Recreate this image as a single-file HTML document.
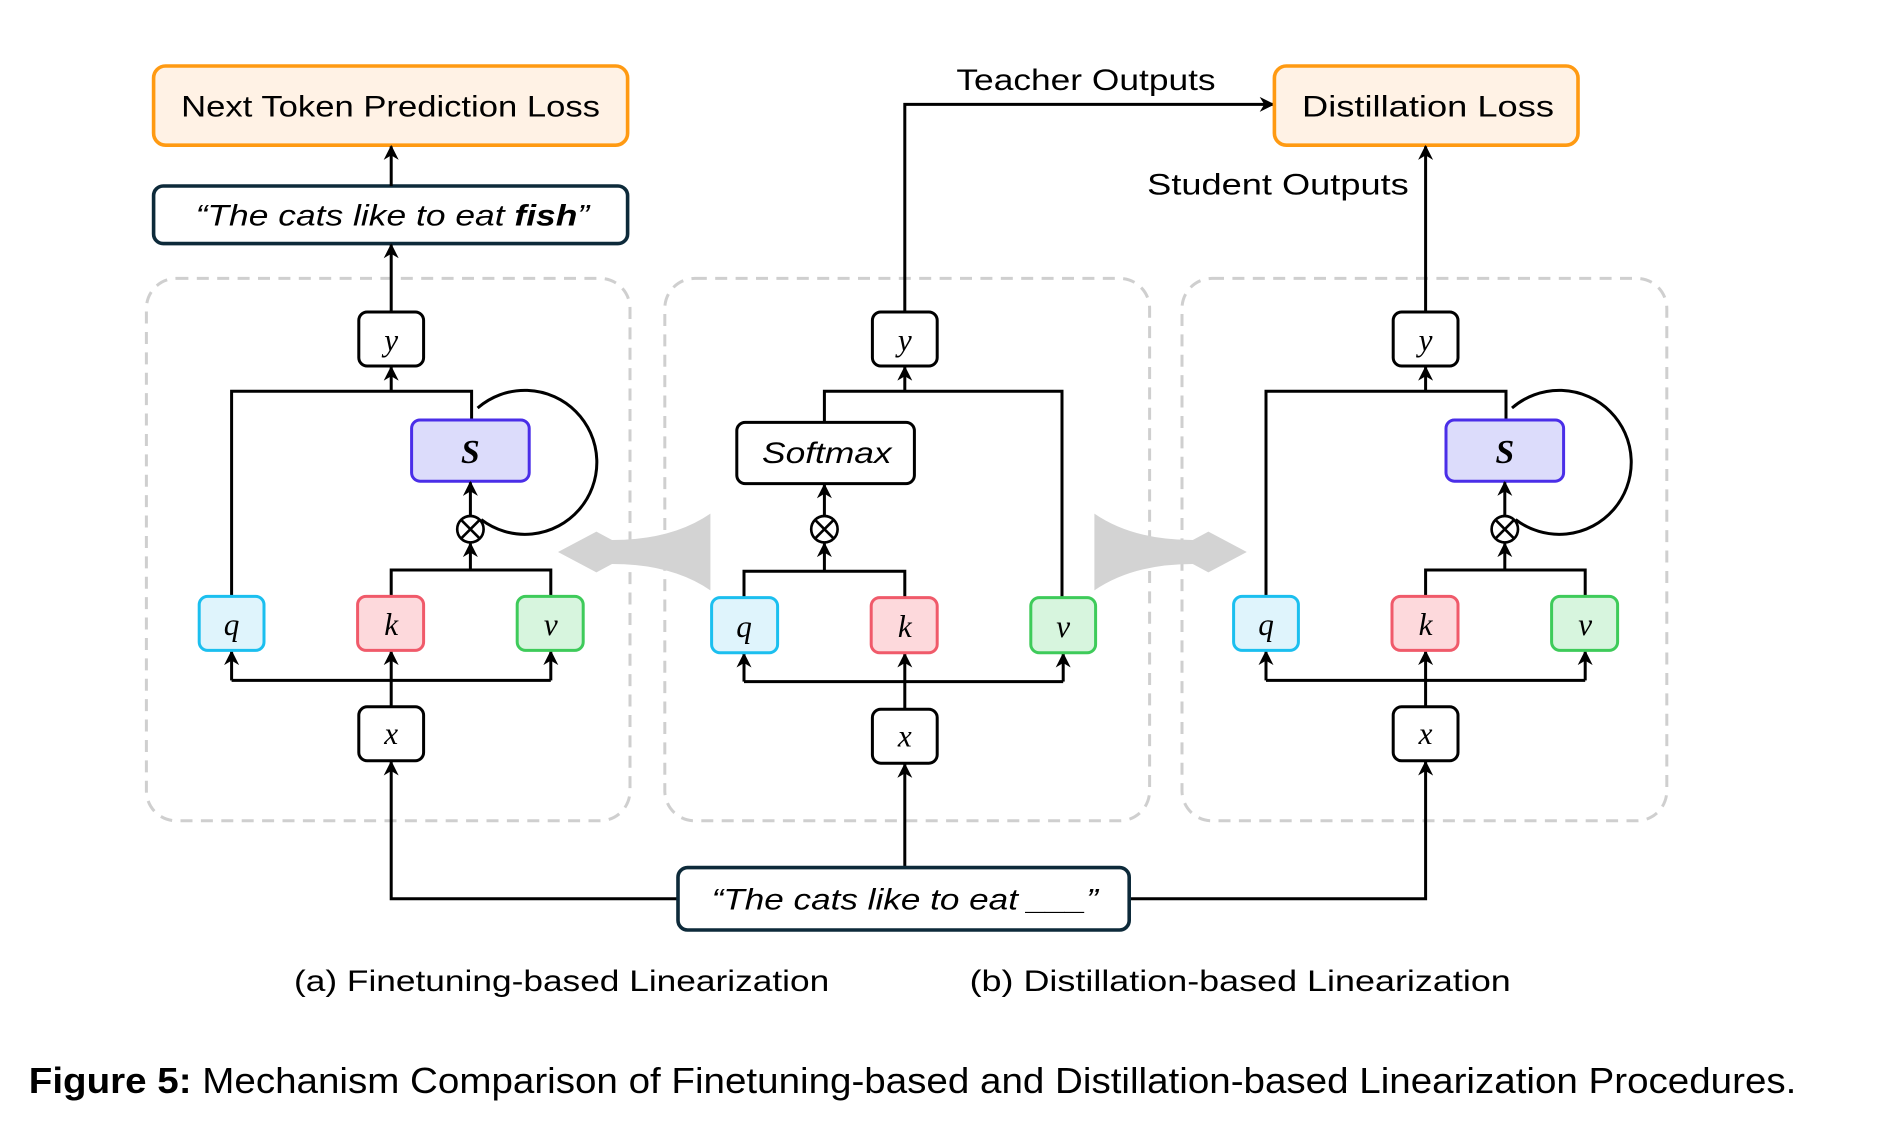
<!DOCTYPE html>
<html><head><meta charset="utf-8"><style>body{margin:0;background:#fff}svg{display:block}</style></head><body>
<svg width="1881" height="1134" viewBox="0 0 1567.5 945" xmlns="http://www.w3.org/2000/svg" font-family="Liberation Sans, sans-serif">
<defs>
<marker id="a" viewBox="0 0 10 10" refX="9" refY="5" markerWidth="5" markerHeight="5" orient="auto"><path d="M0,0 L10,5 L0,10 L3,5z" fill="#000"/></marker>
<g id="lin">
<rect x="299" y="260" width="54" height="45" rx="7" fill="#fff" stroke="#000" stroke-width="2.5"/>
<text x="326" y="292" font-family="Liberation Serif,serif" font-style="italic" font-size="26" text-anchor="middle">y</text>
<path d="M193,497 V326 H393 V350" fill="none" stroke="#000" stroke-width="2.5"/>
<path d="M326,326 V306" stroke="#000" stroke-width="2.5" marker-end="url(#a)"/>
<path d="M398,340 A60,60 0 1 1 401,433" fill="none" stroke="#000" stroke-width="2.5"/>
<rect x="343" y="350" width="98" height="51" rx="7" fill="#dcdcfb" stroke="#4a2ee8" stroke-width="2.5"/>
<text x="392" y="386" font-family="Liberation Serif,serif" font-style="italic" font-weight="bold" font-size="28" text-anchor="middle">S</text>
<circle cx="392" cy="441" r="11" fill="#fff" stroke="#000" stroke-width="2.2"/>
<path d="M384,433 L400,449 M400,433 L384,449" stroke="#000" stroke-width="2.2"/>
<path d="M392,430 V402" stroke="#000" stroke-width="2.5" marker-end="url(#a)"/>
<path d="M326,497 V475 H459 V497" fill="none" stroke="#000" stroke-width="2.5"/>
<path d="M392,475 V453" stroke="#000" stroke-width="2.5" marker-end="url(#a)"/>
<path d="M193,567 H459" stroke="#000" stroke-width="2.5"/>
<path d="M193,567 V543" stroke="#000" stroke-width="2.5" marker-end="url(#a)"/>
<path d="M459,567 V543" stroke="#000" stroke-width="2.5" marker-end="url(#a)"/>
<path d="M326,589 V543" stroke="#000" stroke-width="2.5" marker-end="url(#a)"/>
<rect x="166" y="497" width="54" height="45" rx="7" fill="#dff4fc" stroke="#1bbfef" stroke-width="2.5"/>
<text x="193" y="529" font-family="Liberation Serif,serif" font-style="italic" font-size="26" text-anchor="middle">q</text>
<rect x="298" y="497" width="55" height="45" rx="7" fill="#fdd9dc" stroke="#f05a6a" stroke-width="2.5"/>
<text x="326" y="529" font-family="Liberation Serif,serif" font-style="italic" font-size="26" text-anchor="middle">k</text>
<rect x="431" y="497" width="55" height="45" rx="7" fill="#d7f5de" stroke="#3ecb5a" stroke-width="2.5"/>
<text x="459" y="529" font-family="Liberation Serif,serif" font-style="italic" font-size="26" text-anchor="middle">v</text>
<rect x="299" y="589" width="54" height="45" rx="7" fill="#fff" stroke="#000" stroke-width="2.5"/>
<text x="326" y="620" font-family="Liberation Serif,serif" font-style="italic" font-size="26" text-anchor="middle">x</text>
</g>
</defs>
<g fill="none" stroke="#cfcfcf" stroke-width="2.5" stroke-dasharray="10,7">
<rect x="122" y="232" width="403" height="452" rx="25"/>
<rect x="554" y="232" width="404" height="452" rx="25"/>
<rect x="985" y="232" width="404" height="452" rx="25"/>
</g>
<path d="M592,428 Q560,450 510,450 L497,443 L465,460 L497,477 L510,470 Q560,470 592,492 Z" fill="#d3d3d3"/>
<path d="M912,428 Q944,450 994,450 L1007,443 L1039,460 L1007,477 L994,470 Q944,470 912,492 Z" fill="#d3d3d3"/>
<rect x="128" y="55" width="395" height="66" rx="10" fill="#fff2e5" stroke="#ff9a12" stroke-width="3"/>
<text x="151" y="97" font-size="25" textLength="349" lengthAdjust="spacingAndGlyphs">Next Token Prediction Loss</text>
<rect x="128" y="155" width="395" height="48" rx="8" fill="#fff" stroke="#0d2a3a" stroke-width="3"/>
<text x="163" y="188" font-size="25" font-style="italic" textLength="328" lengthAdjust="spacingAndGlyphs">“The cats like to eat <tspan font-weight="bold">fish</tspan>”</text>
<path d="M326,155 V122" stroke="#000" stroke-width="2.5" marker-end="url(#a)"/>
<path d="M326,260 V204" stroke="#000" stroke-width="2.5" marker-end="url(#a)"/>
<use href="#lin"/>
<use href="#lin" transform="translate(862,0)"/>
<path d="M687,352 V326 H885 V498" fill="none" stroke="#000" stroke-width="2.5"/>
<path d="M754,326 V306" stroke="#000" stroke-width="2.5" marker-end="url(#a)"/>
<path d="M620,498 V476 H754 V498" fill="none" stroke="#000" stroke-width="2.5"/>
<path d="M687,476 V453" stroke="#000" stroke-width="2.5" marker-end="url(#a)"/>
<path d="M687,430 V404" stroke="#000" stroke-width="2.5" marker-end="url(#a)"/>
<path d="M620,568 H886" stroke="#000" stroke-width="2.5"/>
<path d="M620,568 V545" stroke="#000" stroke-width="2.5" marker-end="url(#a)"/>
<path d="M886,568 V545" stroke="#000" stroke-width="2.5" marker-end="url(#a)"/>
<path d="M754,591 V545" stroke="#000" stroke-width="2.5" marker-end="url(#a)"/>
<path d="M754,260 V87 H1061" fill="none" stroke="#000" stroke-width="2.5" marker-end="url(#a)"/>
<rect x="727" y="260" width="54" height="45" rx="7" fill="#fff" stroke="#000" stroke-width="2.5"/>
<text x="754" y="292" font-family="Liberation Serif,serif" font-style="italic" font-size="26" text-anchor="middle">y</text>
<rect x="614" y="352" width="148" height="51" rx="7" fill="#fff" stroke="#000" stroke-width="2.5"/>
<text x="635" y="386" font-style="italic" font-size="25" textLength="108" lengthAdjust="spacingAndGlyphs">Softmax</text>
<circle cx="687" cy="441" r="11" fill="#fff" stroke="#000" stroke-width="2.2"/>
<path d="M679,433 L695,449 M695,433 L679,449" stroke="#000" stroke-width="2.2"/>
<rect x="593" y="498" width="55" height="46" rx="7" fill="#dff4fc" stroke="#1bbfef" stroke-width="2.5"/>
<text x="620" y="531" font-family="Liberation Serif,serif" font-style="italic" font-size="26" text-anchor="middle">q</text>
<rect x="726" y="498" width="55" height="46" rx="7" fill="#fdd9dc" stroke="#f05a6a" stroke-width="2.5"/>
<text x="754" y="531" font-family="Liberation Serif,serif" font-style="italic" font-size="26" text-anchor="middle">k</text>
<rect x="859" y="498" width="54" height="46" rx="7" fill="#d7f5de" stroke="#3ecb5a" stroke-width="2.5"/>
<text x="886" y="531" font-family="Liberation Serif,serif" font-style="italic" font-size="26" text-anchor="middle">v</text>
<rect x="727" y="591" width="54" height="45" rx="7" fill="#fff" stroke="#000" stroke-width="2.5"/>
<text x="754" y="622" font-family="Liberation Serif,serif" font-style="italic" font-size="26" text-anchor="middle">x</text>
<text x="797" y="75" font-size="25" textLength="216" lengthAdjust="spacingAndGlyphs">Teacher Outputs</text>
<rect x="1062" y="55" width="253" height="66" rx="10" fill="#fff2e5" stroke="#ff9a12" stroke-width="3"/>
<text x="1085" y="97" font-size="25" textLength="210" lengthAdjust="spacingAndGlyphs">Distillation Loss</text>
<path d="M1188,260 V122" stroke="#000" stroke-width="2.5" marker-end="url(#a)"/>
<text x="956" y="162" font-size="25" textLength="218" lengthAdjust="spacingAndGlyphs">Student Outputs</text>
<path d="M565,749 H326 V635" fill="none" stroke="#000" stroke-width="2.5" marker-end="url(#a)"/>
<path d="M941,749 H1188 V635" fill="none" stroke="#000" stroke-width="2.5" marker-end="url(#a)"/>
<path d="M754,723 V637" stroke="#000" stroke-width="2.5" marker-end="url(#a)"/>
<rect x="565" y="723" width="376" height="52" rx="8" fill="#fff" stroke="#0d2a3a" stroke-width="3"/>
<text x="593" y="758" font-size="25" font-style="italic" textLength="322" lengthAdjust="spacingAndGlyphs">“The cats like to eat ___”</text>
<text x="245" y="826" font-size="25" textLength="446" lengthAdjust="spacingAndGlyphs">(a) Finetuning-based Linearization</text>
<text x="808" y="826" font-size="25" textLength="451" lengthAdjust="spacingAndGlyphs">(b) Distillation-based Linearization</text>
<text x="24" y="911" font-size="30" textLength="1473" lengthAdjust="spacingAndGlyphs"><tspan font-weight="bold">Figure 5:</tspan> Mechanism Comparison of Finetuning-based and Distillation-based Linearization Procedures.</text>
</svg>
</body></html>
